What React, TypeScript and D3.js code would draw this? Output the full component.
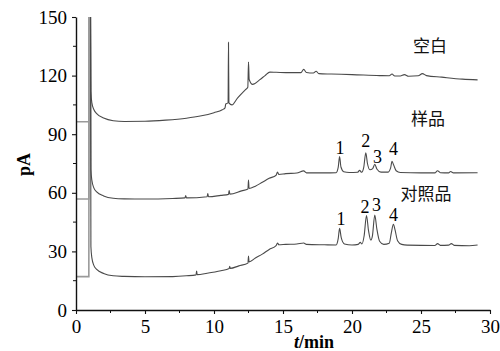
import * as d3 from "d3";
import { useEffect, useRef } from "react";

type Pt = [number, number];

const WIDTH = 500;
const HEIGHT = 351;
const MARGIN = { top: 17, right: 10, bottom: 41, left: 76 };

// retention time (min) vs signal (pA)
const blank: Pt[] = [
  [0, 96.4], [0.93, 96.4], [0.95, 160], [1.05, 160], [1.08, 112], [1.15, 106], [1.3, 102.5],
  [1.5, 100.5], [2, 98.3], [2.7, 96.9], [3.5, 96.5], [5, 96.6], [6.5, 97.2], [8, 98.2],
  [9, 99.3], [10, 101], [10.6, 102.5], [10.8, 103.5], [10.85, 105.5], [11.02, 106],
  [11.05, 137], [11.08, 106], [11.3, 105], [11.7, 108.5], [12.25, 112.6], [12.45, 114],
  [12.5, 127], [12.55, 118], [12.8, 115.5], [13.3, 117.8], [13.7, 120], [14.05, 121.8],
  [14.5, 121.7], [15.5, 121.5], [16.3, 121.5], [16.5, 123.2], [16.7, 121.6], [17.2, 121.3],
  [17.4, 122.2], [17.6, 121], [18.5, 120.8], [20, 120.5], [22, 120], [22.7, 119.9],
  [22.9, 120.8], [23.1, 119.8], [23.5, 119.8], [23.8, 120.5], [24.1, 119.7], [24.8, 119.9],
  [25.1, 121], [25.4, 120], [26.5, 119.2], [28, 118.2], [29.1, 117.8],
];

const sample: Pt[] = [
  [0, 56.8], [0.93, 56.8], [0.95, 160], [1.05, 160], [1.08, 72], [1.15, 66.4], [1.3, 62.4],
  [1.5, 60.5], [2, 58.4], [2.7, 57.2], [3.5, 56.9], [5, 56.8], [7, 57.1], [7.9, 57.4],
  [7.95, 58.6], [8.0, 57.4], [9.5, 58], [9.55, 59.6], [9.6, 58], [10.5, 58.7], [11.05, 59.2],
  [11.1, 61.2], [11.15, 59.3], [12, 61], [12.46, 61.9], [12.5, 66.5], [12.54, 62.2], [13, 63.4],
  [13.5, 65.4], [14, 67.4], [14.5, 69], [14.6, 70.6], [14.7, 69.4], [15.2, 69.8], [16, 70.1],
  [16.5, 71.2], [16.7, 70.2], [18, 70.2], [18.85, 70.3], [19.0, 73], [19.1, 78.5], [19.2, 73.2],
  [19.4, 70.8], [19.8, 70.4], [20.4, 70.5], [20.55, 71.5], [20.7, 70.5], [20.85, 73], [21.0, 80.5],
  [21.12, 75], [21.3, 71.8], [21.5, 72.4], [21.65, 74.6], [21.8, 72.2], [22.1, 70.6], [22.6, 70.6],
  [22.8, 72.8], [22.9, 76.1], [23.02, 74.2], [23.2, 71.3], [23.5, 70.4], [25, 70.2], [26, 70.2],
  [26.2, 71.3], [26.4, 70.3], [27, 70.2], [27.15, 70.9], [27.35, 70.2], [29.1, 70.3],
];

const reference: Pt[] = [
  [0, 17.1], [0.93, 17.1], [0.95, 160], [1.05, 160], [1.08, 32.5], [1.15, 26.7], [1.3, 22.7],
  [1.5, 20.8], [2, 18.7], [2.7, 17.5], [3.5, 17.2], [5, 17], [7, 17.1], [8, 17.5], [8.7, 18],
  [8.74, 20], [8.78, 18.1], [9.5, 18.8], [10.5, 20.1], [11.1, 21.2], [11.14, 22.4], [11.18, 21.3],
  [11.8, 22.6], [12.46, 24], [12.5, 27.6], [12.54, 24.6], [13, 26.6], [13.5, 28.6], [14, 31],
  [14.5, 33], [14.6, 34.3], [14.7, 33.4], [15.2, 33.6], [16, 33.8], [16.5, 34.3], [16.7, 33.6],
  [18, 33.4], [18.85, 33.3], [19.0, 36.5], [19.1, 41.8], [19.22, 37], [19.45, 33.8], [20, 33.3],
  [20.45, 33.6], [20.6, 34.6], [20.72, 33.8], [20.88, 38], [21.05, 48.3], [21.2, 40.5],
  [21.36, 35.8], [21.48, 38], [21.65, 48.6], [21.8, 41.5], [22.0, 35.2], [22.3, 33.6],
  [22.7, 34.2], [22.85, 39.5], [23.0, 43.9], [23.12, 41], [23.3, 35.5], [23.6, 33.6], [24, 33.2],
  [26, 33], [26.2, 34], [26.4, 33.1], [27, 33.2], [27.2, 34], [27.4, 33.1], [28.5, 32.9],
  [29.1, 33.3],
];

const traces = [blank, sample, reference];
const traceNames = ["空白", "样品", "对照品"];
const nameAnchors: Pt[] = [[25.65, 135.7], [25.5, 98.3], [25.36, 59.9]];

const peakNames = ["1", "2", "3", "4"];
const samplePeakAnchors: Pt[] = [[19.13, 82.9], [21.0, 86.5], [21.84, 78.4], [23.0, 82.4]];
const refPeakAnchors: Pt[] = [[19.2, 46.9], [20.94, 52.7], [21.78, 54.0], [23.0, 48.6]];

const xTicks = [0, 5, 10, 15, 20, 25, 30];
const xMinor = [2.5, 7.5, 12.5, 17.5, 22.5, 27.5];
const yTicks = [0, 30, 60, 90, 120, 150];
const yMinor = [15, 45, 75, 105, 135];

const INJECT_END = 0.95;
const SERIF = "'Liberation Serif', 'Times New Roman', serif";
const CJK = "'Noto Sans CJK SC', sans-serif";

export default function App() {
  const ref = useRef<SVGSVGElement>(null);

  useEffect(() => {
    const svg = d3.select(ref.current);
    svg.selectAll("*").remove();

    const x = d3.scaleLinear().domain([0, 30]).range([MARGIN.left, WIDTH - MARGIN.right]);
    const y = d3.scaleLinear().domain([0, 150]).range([HEIGHT - MARGIN.bottom, MARGIN.top]);

    svg
      .append("clipPath")
      .attr("id", "plot-clip")
      .append("rect")
      .attr("x", x(0))
      .attr("y", y(150))
      .attr("width", x(30) - x(0))
      .attr("height", y(0) - y(150));

    const line = d3
      .line<Pt>()
      .x((d) => x(d[0]))
      .y((d) => y(d[1]))
      .curve(d3.curveMonotoneX);

    const straight = d3
      .line<Pt>()
      .x((d) => x(d[0]))
      .y((d) => y(d[1]));

    const plot = svg.append("g").attr("clip-path", "url(#plot-clip)");

    traces.forEach((tr) => {
      // injection step drawn lighter, like the original
      const head = tr.filter((d) => d[0] <= INJECT_END);
      const tail = tr.filter((d) => d[0] >= INJECT_END);
      plot
        .append("path")
        .attr("d", straight(head))
        .attr("fill", "none")
        .attr("stroke", "#9a9a9a")
        .attr("stroke-width", 1.6);
      plot
        .append("path")
        .attr("d", line(tail))
        .attr("fill", "none")
        .attr("stroke", "#4a4a4a")
        .attr("stroke-width", 1.1);
    });

    // axes
    const axisColor = "#111";
    const gx = svg.append("g").attr("transform", `translate(0,${y(0)})`);
    gx.call(
      d3
        .axisBottom(x)
        .tickValues(xTicks)
        .tickSize(4)
        .tickSizeOuter(0)
        .tickPadding(6)
        .tickFormat((d) => String(d))
    );
    gx.append("g")
      .selectAll("line")
      .data(xMinor)
      .join("line")
      .attr("x1", (d) => x(d))
      .attr("x2", (d) => x(d))
      .attr("y1", 0)
      .attr("y2", 3)
      .attr("stroke", axisColor);

    const gy = svg.append("g").attr("transform", `translate(${x(0)},0)`);
    gy.call(
      d3
        .axisLeft(y)
        .tickValues(yTicks)
        .tickSize(4)
        .tickSizeOuter(0)
        .tickPadding(5)
        .tickFormat((d) => String(d))
    );
    gy.append("g")
      .selectAll("line")
      .data(yMinor)
      .join("line")
      .attr("x1", 0)
      .attr("x2", -3)
      .attr("y1", (d) => y(d))
      .attr("y2", (d) => y(d))
      .attr("stroke", axisColor);

    [gx, gy].forEach((g) => {
      g.select(".domain").attr("stroke", axisColor).attr("stroke-width", 1.4);
      g.selectAll(".tick line").attr("stroke", axisColor).attr("stroke-width", 1.1);
      g.selectAll(".tick text")
        .attr("fill", "#000")
        .style("font-family", SERIF)
        .style("font-size", "19px");
    });

    // axis titles
    svg
      .append("text")
      .attr("transform", `translate(24,${(y(0) + y(150)) / 2 + 1}) rotate(-90)`)
      .attr("text-anchor", "middle")
      .attr("dy", "0.32em")
      .style("font-family", SERIF)
      .style("font-size", "18px")
      .style("font-weight", "bold")
      .text("pA");

    const xt = svg
      .append("text")
      .attr("x", 314)
      .attr("y", 348)
      .attr("text-anchor", "middle")
      .style("font-family", SERIF)
      .style("font-size", "18px")
      .style("font-weight", "bold");
    xt.append("tspan").style("font-style", "italic").text("t");
    xt.append("tspan").text("/min");

    // trace names
    svg
      .append("g")
      .selectAll("text")
      .data(traceNames)
      .join("text")
      .attr("x", (_, i) => x(nameAnchors[i][0]))
      .attr("y", (_, i) => y(nameAnchors[i][1]))
      .attr("text-anchor", "middle")
      .attr("dominant-baseline", "central")
      .style("font-family", CJK)
      .style("font-size", "17px")
      .attr("fill", "#111")
      .text((d) => d);

    // peak numbers
    [samplePeakAnchors, refPeakAnchors].forEach((anchors) => {
      svg
        .append("g")
        .selectAll("text")
        .data(peakNames)
        .join("text")
        .attr("x", (_, i) => x(anchors[i][0]))
        .attr("y", (_, i) => y(anchors[i][1]))
        .attr("text-anchor", "middle")
        .attr("dy", "0.35em")
        .style("font-family", SERIF)
        .style("font-size", "18px")
        .attr("fill", "#000")
        .text((d) => d);
    });
  }, []);

  return (
    <svg
      ref={ref}
      width={WIDTH}
      height={HEIGHT}
      viewBox={`0 0 ${WIDTH} ${HEIGHT}`}
      style={{ position: "absolute", left: 0, top: 0, background: "#fff" }}
      role="img"
      aria-label="Gas chromatograms of blank, sample and reference solutions"
    />
  );
}
